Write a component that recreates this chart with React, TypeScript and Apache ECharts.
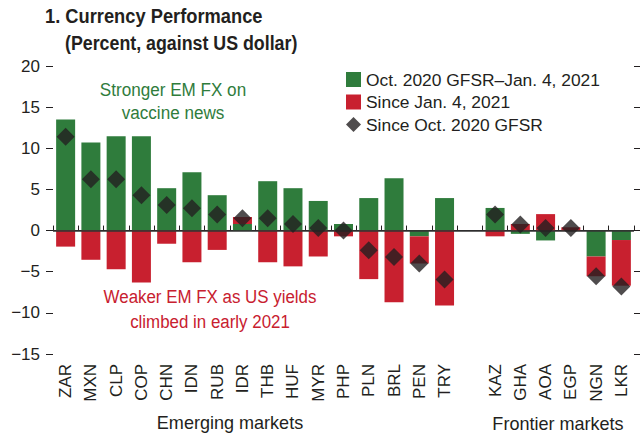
import React, { useEffect, useRef } from "react";
import * as echarts from "echarts";

const categories = ["ZAR","MXN","CLP","COP","CHN","IDN","RUB","IDR","THB","HUF","MYR","PHP","PLN","BRL","PEN","TRY","","KAZ","GHA","AOA","EGP","NGN","LKR"];
const octToJan = [13.5, 10.7, 11.45, 11.45, 5.15, 7.1, 4.3, 0.8, 6.0, 5.15, 3.6, 0.8, 3.95, 6.35, -0.7, 3.95, null, 2.75, -0.4, -1.2, 0, -3.15, -1.15];
const sinceJan = [-1.95, -3.55, -4.7, -6.3, -1.6, -3.85, -2.35, 0.85, -3.85, -4.35, -3.15, -0.7, -5.9, -8.7, -3.3, -9.1, null, -0.7, 0.8, 2.0, 0.4, -2.4, -5.55];
const sinceOct = [11.4, 6.25, 6.25, 4.3, 3.1, 2.7, 1.95, 1.5, 1.5, 0.8, 0.3, 0.0, -2.4, -3.2, -4.0, -5.95, null, 1.95, 0.75, 0.3, 0.3, -5.55, -6.8];
const seriesNames = ["Oct. 2020 GFSR\u2013Jan. 4, 2021", "Since Jan. 4, 2021", "Since Oct. 2020 GFSR"];

const FONT = "'Liberation Sans', Arial, sans-serif";
const GREEN = "#2f7c3c";
const RED = "#c8202f";
const DARK = "#231f20";

export default function App() {
  const ref = useRef<HTMLDivElement>(null);
  useEffect(() => {
    if (!ref.current) return;
    const chart = echarts.init(ref.current, undefined, { renderer: "svg" });
    const fmt = (v: number) => (v < 0 ? "\u2212" + Math.abs(v) : String(v));
    const txt = (text: string, x: number, y: number, fill: string, sx: number, font: string, align = "center", va = "middle") => ({
      type: "text",
      x,
      y,
      scaleX: sx,
      style: { text, font, fill, align, verticalAlign: va },
    });
    chart.setOption({
      animation: false,
      textStyle: { fontFamily: FONT, color: DARK },
      grid: { left: 53, right: 6, top: 66, bottom: 83 },
      legend: {
        orient: "vertical",
        left: 346,
        top: 71,
        padding: 0,
        itemWidth: 15,
        itemHeight: 15,
        itemGap: 5.5,
        textStyle: { fontFamily: FONT, fontSize: 17.4, lineHeight: 15, color: DARK },
        data: [
          { name: seriesNames[0], icon: "rect" },
          { name: seriesNames[1], icon: "rect" },
          { name: seriesNames[2], icon: "diamond" },
        ],
      },
      xAxis: {
        type: "category",
        data: categories,
        axisLine: { show: true, lineStyle: { color: DARK, width: 1.2 } },
        axisTick: { show: true, inside: true, length: 5, interval: 0, lineStyle: { color: DARK } },
        axisLabel: { rotate: 90, interval: 0, margin: 10, fontSize: 17, color: DARK, fontFamily: FONT },
      },
      yAxis: [
        {
          type: "value",
          min: -15,
          max: 20,
          interval: 5,
          axisLine: { show: false },
          axisTick: { show: true, length: 7, lineStyle: { color: DARK } },
          axisLabel: { fontSize: 17, color: DARK, margin: 13, fontFamily: FONT, formatter: fmt },
          splitLine: { show: false },
        },
        {
          type: "value",
          position: "right",
          min: -15,
          max: 20,
          interval: 5,
          axisLine: { show: false },
          axisTick: { show: true, length: 6, lineStyle: { color: DARK } },
          axisLabel: { show: false },
          splitLine: { show: false },
        },
      ],
      series: [
        {
          name: seriesNames[0],
          type: "bar",
          stack: "total",
          barWidth: 19,
          itemStyle: { color: GREEN },
          data: octToJan,
          markLine: {
            silent: true,
            symbol: "none",
            label: { show: false },
            lineStyle: { color: "#333", width: 1.5, type: "solid" },
            data: [{ yAxis: 0 }],
            z: 5,
          },
        },
        {
          name: seriesNames[1],
          type: "bar",
          stack: "total",
          barWidth: 19,
          itemStyle: { color: RED },
          data: sinceJan,
        },
        {
          name: seriesNames[2],
          type: "scatter",
          symbol: "diamond",
          symbolSize: 18,
          itemStyle: { color: DARK },
          data: sinceOct,
          z: 10,
        },
      ],
      graphic: [
        txt("1. Currency Performance", 45, 16.5, DARK, 0.915, `bold 20px ${FONT}`, "left"),
        txt("(Percent, against US dollar)", 65, 43, DARK, 0.89, `bold 20px ${FONT}`, "left"),
        txt("Stronger EM FX on", 173, 90, GREEN, 0.9, `19px ${FONT}`),
        txt("vaccine news", 173, 113, GREEN, 0.9, `19px ${FONT}`),
        txt("Weaker EM FX as US yields", 210, 297, RED, 0.89, `19px ${FONT}`),
        txt("climbed in early 2021", 210, 322, RED, 0.89, `19px ${FONT}`),
        txt("Emerging markets", 230, 422, DARK, 0.95, `19px ${FONT}`),
        txt("Frontier markets", 558, 423, DARK, 0.95, `19px ${FONT}`),
      ],
    });
    return () => chart.dispose();
  }, []);
  return <div ref={ref} style={{ position: "fixed", left: 0, top: 0, width: 640, height: 437, background: "#fff" }} />;
}
